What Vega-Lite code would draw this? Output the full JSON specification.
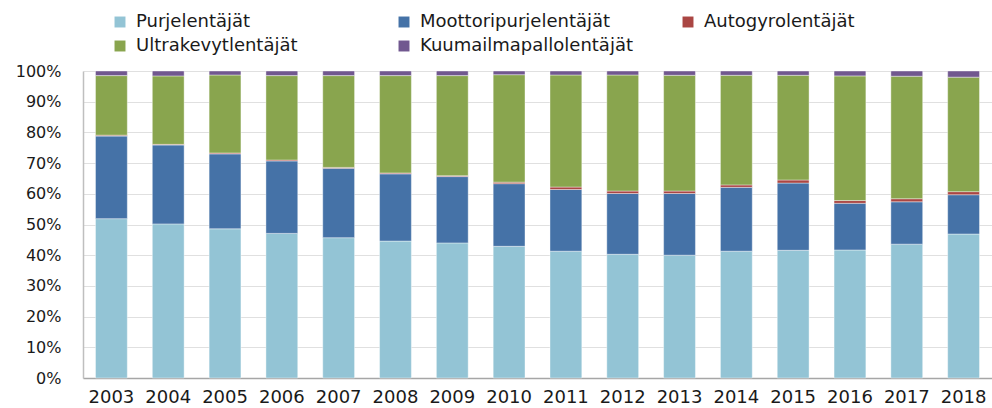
{
  "$schema": "https://vega.github.io/schema/vega-lite/v6.json",
  "width": 909,
  "height": 307,
  "autosize": {"type": "none"},
  "padding": {"left": 83, "top": 71, "right": 0, "bottom": 30},
  "background": "#FFFFFF",
  "data": {
    "values": [
      {"year": "2003", "cat": "Purjelentäjät", "o": 1, "v": 51.9},
      {"year": "2003", "cat": "Moottoripurjelentäjät", "o": 2, "v": 26.9},
      {"year": "2003", "cat": "Autogyrolentäjät", "o": 3, "v": 0.3},
      {"year": "2003", "cat": "Ultrakevytlentäjät", "o": 4, "v": 19.4},
      {"year": "2003", "cat": "Kuumailmapallolentäjät", "o": 5, "v": 1.5},
      {"year": "2004", "cat": "Purjelentäjät", "o": 1, "v": 50.2},
      {"year": "2004", "cat": "Moottoripurjelentäjät", "o": 2, "v": 25.7},
      {"year": "2004", "cat": "Autogyrolentäjät", "o": 3, "v": 0.2},
      {"year": "2004", "cat": "Ultrakevytlentäjät", "o": 4, "v": 22.3},
      {"year": "2004", "cat": "Kuumailmapallolentäjät", "o": 5, "v": 1.6},
      {"year": "2005", "cat": "Purjelentäjät", "o": 1, "v": 48.6},
      {"year": "2005", "cat": "Moottoripurjelentäjät", "o": 2, "v": 24.4},
      {"year": "2005", "cat": "Autogyrolentäjät", "o": 3, "v": 0.3},
      {"year": "2005", "cat": "Ultrakevytlentäjät", "o": 4, "v": 25.4},
      {"year": "2005", "cat": "Kuumailmapallolentäjät", "o": 5, "v": 1.3},
      {"year": "2006", "cat": "Purjelentäjät", "o": 1, "v": 47.1},
      {"year": "2006", "cat": "Moottoripurjelentäjät", "o": 2, "v": 23.6},
      {"year": "2006", "cat": "Autogyrolentäjät", "o": 3, "v": 0.3},
      {"year": "2006", "cat": "Ultrakevytlentäjät", "o": 4, "v": 27.5},
      {"year": "2006", "cat": "Kuumailmapallolentäjät", "o": 5, "v": 1.5},
      {"year": "2007", "cat": "Purjelentäjät", "o": 1, "v": 45.7},
      {"year": "2007", "cat": "Moottoripurjelentäjät", "o": 2, "v": 22.6},
      {"year": "2007", "cat": "Autogyrolentäjät", "o": 3, "v": 0.3},
      {"year": "2007", "cat": "Ultrakevytlentäjät", "o": 4, "v": 29.9},
      {"year": "2007", "cat": "Kuumailmapallolentäjät", "o": 5, "v": 1.5},
      {"year": "2008", "cat": "Purjelentäjät", "o": 1, "v": 44.6},
      {"year": "2008", "cat": "Moottoripurjelentäjät", "o": 2, "v": 21.9},
      {"year": "2008", "cat": "Autogyrolentäjät", "o": 3, "v": 0.3},
      {"year": "2008", "cat": "Ultrakevytlentäjät", "o": 4, "v": 31.7},
      {"year": "2008", "cat": "Kuumailmapallolentäjät", "o": 5, "v": 1.5},
      {"year": "2009", "cat": "Purjelentäjät", "o": 1, "v": 44.0},
      {"year": "2009", "cat": "Moottoripurjelentäjät", "o": 2, "v": 21.6},
      {"year": "2009", "cat": "Autogyrolentäjät", "o": 3, "v": 0.3},
      {"year": "2009", "cat": "Ultrakevytlentäjät", "o": 4, "v": 32.6},
      {"year": "2009", "cat": "Kuumailmapallolentäjät", "o": 5, "v": 1.5},
      {"year": "2010", "cat": "Purjelentäjät", "o": 1, "v": 42.9},
      {"year": "2010", "cat": "Moottoripurjelentäjät", "o": 2, "v": 20.4},
      {"year": "2010", "cat": "Autogyrolentäjät", "o": 3, "v": 0.5},
      {"year": "2010", "cat": "Ultrakevytlentäjät", "o": 4, "v": 35.0},
      {"year": "2010", "cat": "Kuumailmapallolentäjät", "o": 5, "v": 1.2},
      {"year": "2011", "cat": "Purjelentäjät", "o": 1, "v": 41.3},
      {"year": "2011", "cat": "Moottoripurjelentäjät", "o": 2, "v": 20.1},
      {"year": "2011", "cat": "Autogyrolentäjät", "o": 3, "v": 0.8},
      {"year": "2011", "cat": "Ultrakevytlentäjät", "o": 4, "v": 36.5},
      {"year": "2011", "cat": "Kuumailmapallolentäjät", "o": 5, "v": 1.3},
      {"year": "2012", "cat": "Purjelentäjät", "o": 1, "v": 40.3},
      {"year": "2012", "cat": "Moottoripurjelentäjät", "o": 2, "v": 19.8},
      {"year": "2012", "cat": "Autogyrolentäjät", "o": 3, "v": 0.8},
      {"year": "2012", "cat": "Ultrakevytlentäjät", "o": 4, "v": 37.8},
      {"year": "2012", "cat": "Kuumailmapallolentäjät", "o": 5, "v": 1.3},
      {"year": "2013", "cat": "Purjelentäjät", "o": 1, "v": 40.0},
      {"year": "2013", "cat": "Moottoripurjelentäjät", "o": 2, "v": 20.1},
      {"year": "2013", "cat": "Autogyrolentäjät", "o": 3, "v": 0.8},
      {"year": "2013", "cat": "Ultrakevytlentäjät", "o": 4, "v": 37.7},
      {"year": "2013", "cat": "Kuumailmapallolentäjät", "o": 5, "v": 1.4},
      {"year": "2014", "cat": "Purjelentäjät", "o": 1, "v": 41.3},
      {"year": "2014", "cat": "Moottoripurjelentäjät", "o": 2, "v": 20.8},
      {"year": "2014", "cat": "Autogyrolentäjät", "o": 3, "v": 0.8},
      {"year": "2014", "cat": "Ultrakevytlentäjät", "o": 4, "v": 35.7},
      {"year": "2014", "cat": "Kuumailmapallolentäjät", "o": 5, "v": 1.4},
      {"year": "2015", "cat": "Purjelentäjät", "o": 1, "v": 41.6},
      {"year": "2015", "cat": "Moottoripurjelentäjät", "o": 2, "v": 21.9},
      {"year": "2015", "cat": "Autogyrolentäjät", "o": 3, "v": 1.0},
      {"year": "2015", "cat": "Ultrakevytlentäjät", "o": 4, "v": 34.1},
      {"year": "2015", "cat": "Kuumailmapallolentäjät", "o": 5, "v": 1.4},
      {"year": "2016", "cat": "Purjelentäjät", "o": 1, "v": 41.7},
      {"year": "2016", "cat": "Moottoripurjelentäjät", "o": 2, "v": 15.2},
      {"year": "2016", "cat": "Autogyrolentäjät", "o": 3, "v": 0.9},
      {"year": "2016", "cat": "Ultrakevytlentäjät", "o": 4, "v": 40.6},
      {"year": "2016", "cat": "Kuumailmapallolentäjät", "o": 5, "v": 1.6},
      {"year": "2017", "cat": "Purjelentäjät", "o": 1, "v": 43.6},
      {"year": "2017", "cat": "Moottoripurjelentäjät", "o": 2, "v": 13.8},
      {"year": "2017", "cat": "Autogyrolentäjät", "o": 3, "v": 1.0},
      {"year": "2017", "cat": "Ultrakevytlentäjät", "o": 4, "v": 39.9},
      {"year": "2017", "cat": "Kuumailmapallolentäjät", "o": 5, "v": 1.7},
      {"year": "2018", "cat": "Purjelentäjät", "o": 1, "v": 46.9},
      {"year": "2018", "cat": "Moottoripurjelentäjät", "o": 2, "v": 12.8},
      {"year": "2018", "cat": "Autogyrolentäjät", "o": 3, "v": 1.0},
      {"year": "2018", "cat": "Ultrakevytlentäjät", "o": 4, "v": 37.3},
      {"year": "2018", "cat": "Kuumailmapallolentäjät", "o": 5, "v": 2.0}
    ]
  },
  "mark": {"type": "bar", "stroke": "#FFFFFF", "strokeWidth": 0.8, "strokeOpacity": 0.5},
  "encoding": {
    "x": {
      "field": "year",
      "type": "ordinal",
      "title": null,
      "scale": {"paddingInner": 0.44, "paddingOuter": 0.22},
      "axis": {
        "labelAngle": 0,
        "labelFont": "DejaVu Sans",
        "labelFontSize": 18,
        "labelColor": "#1A1A1A",
        "labelPadding": 10,
        "labelOverlap": false,
        "ticks": false,
        "domainColor": "#A6A6A6",
        "domainWidth": 1.5
      }
    },
    "y": {
      "field": "v",
      "type": "quantitative",
      "stack": "normalize",
      "title": null,
      "scale": {"domain": [0, 1], "nice": false},
      "axis": {
        "values": [0, 0.1, 0.2, 0.3, 0.4, 0.5, 0.6, 0.7, 0.8, 0.9, 1],
        "format": ".0%",
        "labelFont": "DejaVu Sans",
        "labelFontSize": 16,
        "labelColor": "#1A1A1A",
        "labelPadding": 22,
        "ticks": false,
        "domainColor": "#BFBFBF",
        "domainWidth": 1.5,
        "grid": true,
        "gridColor": "#E0E0E0",
        "gridWidth": 1
      }
    },
    "color": {
      "field": "cat",
      "type": "nominal",
      "scale": {
        "domain": ["Purjelentäjät", "Moottoripurjelentäjät", "Autogyrolentäjät", "Ultrakevytlentäjät", "Kuumailmapallolentäjät"],
        "range": ["#93C4D5", "#4572A7", "#AA4643", "#89A54E", "#71588F"]
      },
      "legend": {
        "title": null,
        "orient": "none",
        "direction": "horizontal",
        "legendX": 28,
        "legendY": -58,
        "columns": 3,
        "gridAlign": "all",
        "columnPadding": 46,
        "rowPadding": 6,
        "symbolType": "square",
        "symbolSize": 120,
        "symbolStrokeWidth": 0,
        "labelFont": "DejaVu Sans",
        "labelFontSize": 18,
        "labelColor": "#1A1A1A",
        "labelLimit": 400,
        "labelOffset": 7
      }
    },
    "order": {"field": "o", "type": "quantitative"}
  },
  "config": {
    "view": {"stroke": null}
  }
}
